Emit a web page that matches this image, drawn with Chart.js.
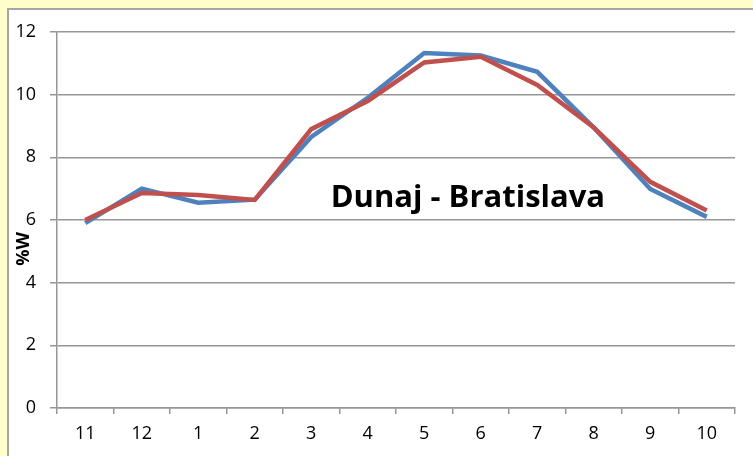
<!DOCTYPE html>
<html>
<head>
<meta charset="utf-8">
<script src="https://cdn.jsdelivr.net/npm/chart.js@4.4.1/dist/chart.umd.min.js"></script>
<style>
  html, body { margin: 0; padding: 0; background: #ffffcc; overflow: hidden; }
  .frame { position: absolute; left: 7px; top: 8px; width: 760px; height: 460px;
           background: #fff; border: 2px solid #a6a6a6; }
  .wrap { position: absolute; left: 0; top: 0; width: 753px; height: 456px; }
</style>
</head>
<body>
<div class="frame"></div>
<div class="wrap"><canvas id="chart" width="753" height="456"></canvas></div>
<script>
const months = ["11", "12", "1", "2", "3", "4", "5", "6", "7", "8", "9", "10"];
const blueSeries = [5.9, 7.0, 6.55, 6.65, 8.65, 9.9, 11.33, 11.25, 10.73, 8.95, 6.99, 6.1];
const redSeries = [6.0, 6.86, 6.8, 6.64, 8.9, 9.8, 11.03, 11.21, 10.31, 8.95, 7.22, 6.3];
const yTicks = [0, 2, 4, 6, 8, 10, 12];
const chartTitle = "Dunaj - Bratislava";
const yTitle = "%W";

const font = "'Open Sans', 'Liberation Sans', sans-serif";

// title inside the plot and the rotated axis title, like the original
const extraText = {
  id: "extraText",
  afterDatasetsDraw(chart) {
    const { ctx, chartArea } = chart;
    const w = chartArea.right - chartArea.left;
    const h = chartArea.bottom - chartArea.top;
    ctx.save();
    ctx.fillStyle = "#000";
    ctx.textAlign = "center";
    ctx.font = "bold 31px " + font;
    ctx.textBaseline = "alphabetic";
    ctx.fillText(chartTitle, chartArea.left + w * 0.606, chartArea.top + h * 0.465);

    ctx.font = "bold 18px " + font;
    ctx.textBaseline = "middle";
    ctx.translate(24, chartArea.top + h * 0.577);
    ctx.rotate(-Math.PI / 2);
    ctx.fillText(yTitle, 0, 0);
    ctx.restore();
  }
};

new Chart(document.getElementById("chart"), {
  type: "line",
  data: {
    labels: months,
    datasets: [
      { data: redSeries, borderColor: "#c0504d", borderWidth: 4.5, pointRadius: 0, tension: 0 },
      { data: blueSeries, borderColor: "#4f81bd", borderWidth: 4.5, pointRadius: 0, tension: 0 }
    ]
  },
  options: {
    responsive: false,
    animation: false,
    layout: { padding: { top: 32, right: 18, left: 0, bottom: 0 } },
    plugins: { legend: { display: false }, tooltip: { enabled: false } },
    scales: {
      x: {
        offset: true,
        grid: { offset: true, drawOnChartArea: false, drawTicks: true, tickLength: 6, color: "#969696", lineWidth: 1.5 },
        border: { color: "#969696", width: 1.5 },
        ticks: { color: "#000", padding: 9, font: { family: font, size: 18 } },
        afterFit(scale) { scale.height = 48; }
      },
      y: {
        min: 0,
        max: 12,
        afterBuildTicks(scale) { scale.ticks = yTicks.map(v => ({ value: v })); },
        grid: { color: "#969696", lineWidth: 1.5, tickLength: 7 },
        border: { color: "#969696", width: 1.5 },
        ticks: { color: "#000", padding: 14, font: { family: font, size: 18 } },
        afterFit(scale) { scale.width = 57; }
      }
    }
  },
  plugins: [extraText]
});
</script>
</body>
</html>
